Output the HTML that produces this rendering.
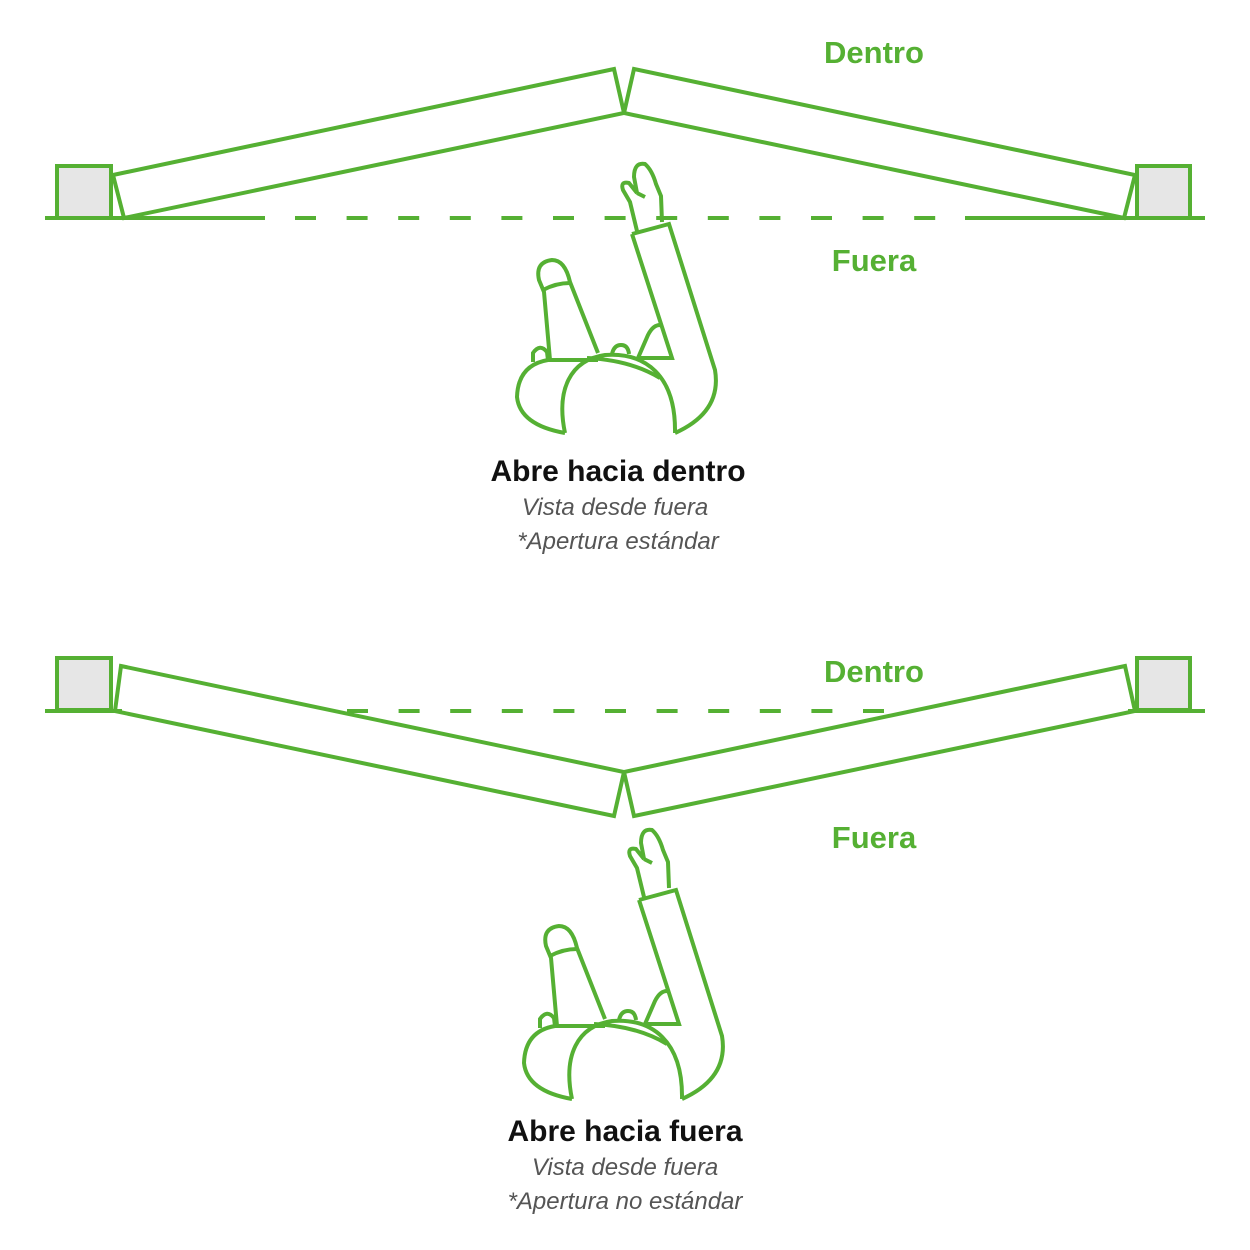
<!DOCTYPE html>
<html><head><meta charset="utf-8"><style>
body{margin:0;background:#fff}
svg{display:block}
.g{fill:none;stroke:#55b033;stroke-width:4;stroke-linejoin:miter}
.p{fill:#e6e6e6;stroke:#55b033;stroke-width:4}
.l{font-family:"Liberation Sans",sans-serif;font-weight:bold;fill:#55b033;font-size:31px;text-anchor:middle}
.t{font-family:"Liberation Sans",sans-serif;font-weight:bold;fill:#111;font-size:30px;text-anchor:middle}
.s{font-family:"Liberation Sans",sans-serif;font-style:italic;fill:#555;font-size:24px;text-anchor:middle}
</style></head><body>
<svg width="1250" height="1250" viewBox="0 0 1250 1250">
<defs>
<g id="person" class="g" fill="none">
<path d="M637,231 L630,202 L623,190 Q620,181 629,183 L637,193 L634,177 Q634,162 645,164 Q652,170 656,184 L661,196 L662,222"/>
<path d="M637,193 L645,197"/>
<path d="M632,234 L669,224 L715,370 Q722,412 675,433"/>
<path d="M632,234 L672,358 L638,358 L648,335 Q653,325 660,325"/>
<path d="M565,433 C556,390 570,360 605,355 C645,352 676,375 675,433"/>
<path d="M587,358 Q630,360 660,378"/>
<path d="M612,354 Q614,345 621,345 Q628,345 629,354"/>
<path d="M565,433 Q520,425 517,397 Q518,365 548,360 L598,360"/>
<path d="M550,360 L544,292 L539,280 Q535,262 552,260 Q565,260 570,282 L598,353"/>
<path d="M543,290 Q556,283 570,283"/>
<path d="M533,362 L533,353 Q540,343 547,352 L548,360"/>
</g>
</defs>
<line x1="45" y1="218" x2="265" y2="218" class="g"/>
<line x1="295" y1="218" x2="965" y2="218" class="g" stroke-dasharray="21 30.6"/>
<line x1="965" y1="218" x2="1205" y2="218" class="g"/>
<rect x="57" y="166" width="54" height="52" class="p"/>
<rect x="1137" y="166" width="53" height="52" class="p"/>
<polygon points="113,175 614,69 624,113 124,218" class="g" style="fill:#fff"/>
<polygon points="634,69 1135,175 1124,218 624,113" class="g" style="fill:#fff"/>
<use href="#person"/>
<text x="874" y="63" class="l">Dentro</text>
<text x="874" y="271" class="l">Fuera</text>
<text x="618" y="481" class="t">Abre hacia dentro</text>
<text x="615" y="515" class="s">Vista desde fuera</text>
<text x="618" y="549" class="s">*Apertura estándar</text>
<line x1="45" y1="711" x2="122" y2="711" class="g"/>
<line x1="347" y1="711" x2="890" y2="711" class="g" stroke-dasharray="21 30.6"/>
<line x1="1128" y1="711" x2="1205" y2="711" class="g"/>
<rect x="57" y="658" width="54" height="52" class="p"/>
<rect x="1137" y="658" width="53" height="52" class="p"/>
<polygon points="121,666 624,772 614,816 115,711" class="g" style="fill:none"/>
<polygon points="1125,666 624,772 634,816 1135,711" class="g" style="fill:none"/>
<use href="#person" transform="translate(7,666)"/>
<text x="874" y="682" class="l">Dentro</text>
<text x="874" y="848" class="l">Fuera</text>
<text x="625" y="1141" class="t">Abre hacia fuera</text>
<text x="625" y="1175" class="s">Vista desde fuera</text>
<text x="625" y="1209" class="s">*Apertura no estándar</text>
</svg>
</body></html>
